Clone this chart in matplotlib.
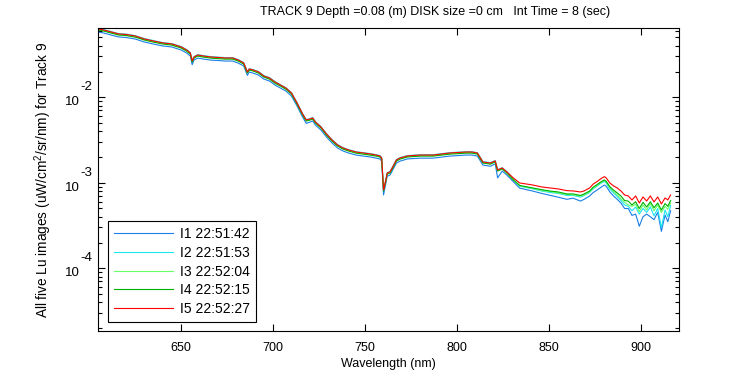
import numpy as np
import matplotlib
matplotlib.use('Agg')
import matplotlib.pyplot as plt
from matplotlib.ticker import LogLocator, NullFormatter, FixedLocator
from matplotlib.transforms import blended_transform_factory, ScaledTranslation

# Helvetica-like look of the original MATLAB figure
plt.rcParams['font.family'] = ['Liberation Sans', 'DejaVu Sans']
plt.rcParams['mathtext.fontset'] = 'custom'
plt.rcParams['mathtext.rm'] = 'Liberation Sans'
plt.rcParams['mathtext.it'] = 'Liberation Sans'
plt.rcParams['mathtext.default'] = 'regular'

# Wavelength (nm) of the sampled points
wavelength = [605, 608, 612, 616, 620, 625, 630, 635, 640, 645,
              650, 653, 655, 656, 657, 659, 662, 666, 670, 674,
              678, 681, 684, 686, 687, 689, 692, 695, 698, 701,
              704, 707, 710, 713, 716, 718, 720, 721.5, 723, 726,
              729, 732, 735, 738, 741, 745, 749, 753, 756, 758,
              759, 760, 761, 762, 763.5, 765, 767, 769, 773, 780,
              787, 796, 805, 808, 811, 814, 818, 820.7, 822, 824.5,
              827, 830.5, 834, 841, 846, 850.5, 855, 859.6, 863, 867,
              869, 872, 874, 876, 878, 880, 881, 883, 885, 887,
              889, 891, 893, 895, 897, 899, 901, 903, 905, 907,
              909, 911, 913, 914.5, 916]

# Lu for the five images, in units of 1e-3 uW/cm^2/sr/nm
lu_i1 = [57.9, 56.4, 53.4, 50.7, 50.0, 48.0, 44.3, 41.9, 39.8, 38.7,
         35.7, 32.9, 30.4, 24.0, 27.2, 28.7, 28.0, 27.2, 26.9, 26.5,
         26.5, 25.1, 23.2, 18.0, 19.7, 19.2, 18.2, 16.3, 15.5, 13.9,
         12.8, 11.8, 10.3, 7.89, 5.87, 4.95, 5.12, 5.27, 4.73, 4.13,
         3.42, 2.92, 2.55, 2.35, 2.23, 2.11, 2.05, 2.00, 1.94, 1.90,
         1.79, 0.72, 0.92, 1.19, 1.23, 1.41, 1.70, 1.79, 1.90, 1.94,
         1.94, 2.05, 2.11, 2.11, 2.05, 1.61, 1.56, 1.66, 1.14, 1.37,
         1.23, 1.03, 0.865, 0.80, 0.75, 0.713, 0.677, 0.64, 0.66, 0.61,
         0.64, 0.70, 0.77, 0.82, 0.88, 0.94, 0.91, 0.78, 0.70, 0.64,
         0.58, 0.50, 0.50, 0.415, 0.43, 0.31, 0.40, 0.43, 0.40, 0.37,
         0.45, 0.27, 0.42, 0.35, 0.47]
lu_i2 = [63.5, 61.8, 58.6, 55.6, 54.8, 52.6, 48.6, 46.0, 43.6, 42.4,
         39.2, 36.1, 33.3, 26.9, 29.9, 31.5, 30.7, 29.9, 29.5, 29.1,
         29.1, 27.6, 25.5, 20.0, 21.6, 21.1, 20.0, 17.9, 17.0, 15.3,
         14.0, 12.9, 11.3, 8.67, 6.44, 5.48, 5.63, 5.79, 5.19, 4.53,
         3.76, 3.20, 2.80, 2.58, 2.44, 2.31, 2.25, 2.19, 2.13, 2.08,
         1.97, 0.83, 1.03, 1.31, 1.35, 1.55, 1.87, 1.97, 2.08, 2.13,
         2.13, 2.25, 2.31, 2.31, 2.25, 1.77, 1.72, 1.82, 1.42, 1.50,
         1.35, 1.11, 0.91, 0.85, 0.80, 0.77, 0.75, 0.71, 0.71, 0.68,
         0.71, 0.77, 0.85, 0.91, 0.98, 1.04, 0.99, 0.84, 0.76, 0.69,
         0.62, 0.55, 0.53, 0.47, 0.52, 0.43, 0.50, 0.45, 0.52, 0.41,
         0.50, 0.30, 0.48, 0.40, 0.54]
lu_i3 = [62.0, 60.3, 57.1, 54.2, 53.5, 51.3, 47.4, 44.8, 42.6, 41.4,
         38.2, 35.2, 32.5, 26.2, 29.2, 30.7, 29.9, 29.2, 28.8, 28.4,
         28.4, 26.9, 24.8, 19.5, 21.1, 20.6, 19.5, 17.4, 16.5, 14.9,
         13.7, 12.6, 11.0, 8.45, 6.28, 5.35, 5.49, 5.64, 5.06, 4.42,
         3.66, 3.12, 2.73, 2.51, 2.38, 2.26, 2.20, 2.14, 2.08, 2.03,
         1.92, 0.81, 1.00, 1.28, 1.32, 1.51, 1.82, 1.92, 2.03, 2.08,
         2.08, 2.20, 2.26, 2.26, 2.20, 1.72, 1.67, 1.77, 1.39, 1.47,
         1.32, 1.10, 0.92, 0.86, 0.81, 0.79, 0.76, 0.73, 0.72, 0.70,
         0.72, 0.78, 0.87, 0.93, 1.00, 1.06, 1.02, 0.87, 0.79, 0.72,
         0.65, 0.59, 0.55, 0.53, 0.56, 0.46, 0.55, 0.48, 0.57, 0.47,
         0.55, 0.45, 0.53, 0.49, 0.58]
lu_i4 = [61.0, 59.4, 56.3, 53.4, 52.7, 50.5, 46.7, 44.1, 41.9, 40.7,
         37.6, 34.6, 32.0, 25.8, 28.7, 30.3, 29.5, 28.7, 28.3, 27.9,
         27.9, 26.5, 24.4, 19.2, 20.8, 20.3, 19.2, 17.2, 16.3, 14.6,
         13.5, 12.4, 10.9, 8.32, 6.19, 5.27, 5.40, 5.56, 4.99, 4.36,
         3.61, 3.07, 2.69, 2.47, 2.35, 2.22, 2.16, 2.10, 2.05, 2.00,
         1.89, 0.80, 0.99, 1.26, 1.30, 1.48, 1.79, 1.89, 2.00, 2.05,
         2.05, 2.16, 2.22, 2.22, 2.16, 1.70, 1.65, 1.75, 1.37, 1.45,
         1.30, 1.08, 0.93, 0.87, 0.83, 0.80, 0.78, 0.74, 0.74, 0.71,
         0.74, 0.80, 0.89, 0.95, 1.02, 1.08, 1.04, 0.90, 0.82, 0.76,
         0.70, 0.62, 0.61, 0.55, 0.60, 0.50, 0.59, 0.52, 0.60, 0.51,
         0.58, 0.48, 0.57, 0.53, 0.62]
lu_i5 = [62.9, 61.2, 58.0, 55.0, 54.3, 52.1, 48.1, 45.5, 43.2, 42.0,
         38.8, 35.7, 33.0, 26.6, 29.6, 31.2, 30.4, 29.6, 29.2, 28.8,
         28.8, 27.3, 25.2, 19.8, 21.4, 20.9, 19.8, 17.7, 16.8, 15.1,
         13.9, 12.8, 11.2, 8.58, 6.38, 5.43, 5.57, 5.73, 5.14, 4.49,
         3.72, 3.17, 2.77, 2.55, 2.42, 2.29, 2.23, 2.17, 2.11, 2.06,
         1.95, 0.824, 1.02, 1.30, 1.34, 1.53, 1.85, 1.95, 2.06, 2.11,
         2.11, 2.23, 2.29, 2.29, 2.23, 1.75, 1.70, 1.80, 1.41, 1.49,
         1.34, 1.14, 0.994, 0.942, 0.893, 0.869, 0.846, 0.809, 0.802, 0.780,
         0.802, 0.869, 0.968, 1.03, 1.11, 1.18, 1.14, 0.994, 0.918, 0.869,
         0.802, 0.720, 0.701, 0.629, 0.701, 0.580, 0.682, 0.612, 0.701, 0.596,
         0.682, 0.565, 0.664, 0.629, 0.720]

labels = ['I1 22:51:42', 'I2 22:51:53', 'I3 22:52:04', 'I4 22:52:15', 'I5 22:52:27']
colors = ['#1a7fe6', '#1ae6f2', '#66ff66', '#00b000', '#ff0000']
all_series = [lu_i1, lu_i2, lu_i3, lu_i4, lu_i5]
decades = [-4, -3, -2]

fig = plt.figure(figsize=(7.5, 3.75), dpi=100)
ax = fig.add_axes([0.1311, 0.1181, 0.7743, 0.8064])

# I1 first so that I5 (red) ends up on top, like the original
for series, lab, col in zip(all_series, labels, colors):
    ax.semilogy(wavelength, np.array(series) * 1e-3, color=col, lw=0.8, label=lab)

ax.set_xlim(605, 920.6)
ax.set_ylim(1.86e-5, 6.4e-2)
ax.xaxis.set_major_locator(FixedLocator([650, 700, 750, 800, 850, 900]))
ax.yaxis.set_major_locator(FixedLocator([10.0 ** d for d in decades]))
ax.yaxis.set_major_formatter(NullFormatter())
ax.yaxis.set_minor_locator(LogLocator(base=10, subs=range(2, 10), numticks=20))
ax.yaxis.set_minor_formatter(NullFormatter())

ax.tick_params(which='both', direction='in', top=True, right=True, width=0.8, labelsize=9)
ax.tick_params(which='major', length=5)
ax.tick_params(which='minor', length=3)
ax.tick_params(axis='x', pad=8)
for sp in ax.spines.values():
    sp.set_linewidth(0.8)

# MATLAB style "10" with a big raised exponent beside it
trans = blended_transform_factory(ax.transAxes, ax.transData)
for d in decades:
    ax.text(0, 10.0 ** d, '10', fontsize=9.5, ha='right', va='center',
            transform=trans + ScaledTranslation(-18 / 100, -5 / 100, fig.dpi_scale_trans))
    ax.text(0, 10.0 ** d, str(d), fontsize=9.5, ha='left', va='center',
            transform=trans + ScaledTranslation(-18 / 100, 10 / 100, fig.dpi_scale_trans))

ax.set_xlabel('Wavelength (nm)', fontsize=9, labelpad=3)
ax.set_ylabel('All five Lu images (uW/cm$^2$/sr/nm) for Track 9', fontsize=9.8)
ax.yaxis.set_label_coords(-0.076, 0.5)
fig.text(435 / 750, 1 - 12 / 375,
         'TRACK 9 Depth =0.08 (m) DISK size =0 cm   Int Time = 8 (sec)',
         ha='center', va='center', fontsize=9)

leg = ax.legend(loc='lower left', bbox_to_anchor=(0.0167, 0.029), borderaxespad=0,
                fancybox=False, edgecolor='black', framealpha=1, fontsize=10,
                handlelength=4.2, handletextpad=0.5, labelspacing=0.33, borderpad=0.45)
leg.get_frame().set_linewidth(0.8)

plt.savefig('out.png', dpi=100)
